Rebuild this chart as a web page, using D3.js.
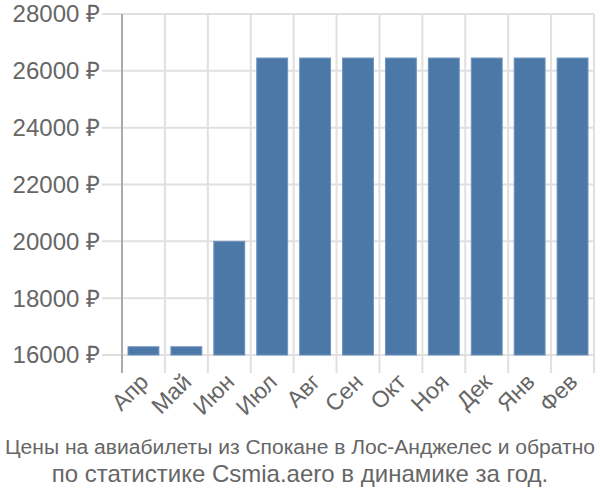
<!DOCTYPE html>
<html>
<head>
<meta charset="utf-8">
<script src="https://cdn.jsdelivr.net/npm/d3@7"></script>
<style>
  body { margin: 0; background: #fff; }
  .grid line { stroke: #e0e0e0; stroke-width: 2; }
</style>
</head>
<body>
<div id="chart"></div>
<script>
"use strict";

var width = 600;
var height = 500;
var margin = { top: 14, right: 6, bottom: 145, left: 122 };

var months = ["Апр", "Май", "Июн", "Июл", "Авг", "Сен", "Окт", "Ноя", "Дек", "Янв", "Фев"];
var prices = [16290, 16290, 20000, 26450, 26450, 26450, 26450, 26450, 26450, 26450, 26450];
var yTicks = [16000, 18000, 20000, 22000, 24000, 26000, 28000];
var titleLines = ["Цены на авиабилеты из Спокане в Лос-Анджелес и обратно",
                  "по статистике Csmia.aero в динамике за год."];

var xScale = d3.scaleBand()
               .domain(months)
               .range([margin.left, width - margin.right])
               .paddingInner(0.28)
               .paddingOuter(0.14);

var yScale = d3.scaleLinear()
               .domain([16000, 28000])
               .range([355, margin.top]);

var svg = d3.select("#chart")
            .append("svg")
            .attr("width", width)
            .attr("height", height);

// horizontal grid lines
svg.append("g")
   .attr("class", "grid")
   .selectAll("line")
   .data(yTicks)
   .enter()
   .append("line")
   .attr("x1", margin.left - 20)
   .attr("x2", width - margin.right)
   .attr("y1", function(d) { return yScale(d); })
   .attr("y2", function(d) { return yScale(d); });

// vertical grid lines at band boundaries
var step = xScale.step();
var bounds = d3.range(months.length + 1).map(function(i) {
   return margin.left + i * step;
});
svg.append("g")
   .attr("class", "grid")
   .selectAll("line")
   .data(bounds.slice(1))
   .enter()
   .append("line")
   .attr("x1", function(d) { return d; })
   .attr("x2", function(d) { return d; })
   .attr("y1", margin.top)
   .attr("y2", 373);

// bars
svg.selectAll("rect.bar")
   .data(prices)
   .enter()
   .append("rect")
   .attr("class", "bar")
   .attr("x", function(d, i) { return xScale(months[i]); })
   .attr("y", function(d) { return yScale(d); })
   .attr("width", xScale.bandwidth())
   .attr("height", function(d) { return yScale(16000) - yScale(d); })
   .attr("fill", "#4c78a8")
   .attr("stroke", "#6f93bd")
   .attr("stroke-width", 1);

// left axis line
svg.append("line")
   .attr("x1", margin.left)
   .attr("x2", margin.left)
   .attr("y1", margin.top)
   .attr("y2", 373)
   .attr("stroke", "#aaa")
   .attr("stroke-width", 2);

// y tick labels
svg.append("g")
   .selectAll("text")
   .data(yTicks)
   .enter()
   .append("text")
   .attr("x", 100)
   .attr("y", function(d) { return yScale(d); })
   .attr("dy", "0.35em")
   .attr("text-anchor", "end")
   .style("font-family", "'Liberation Sans', Arial, sans-serif")
   .style("font-size", "24px")
   .attr("fill", "#666")
   .text(function(d) { return d + " ₽"; });

// x tick labels
svg.append("g")
   .selectAll("text")
   .data(months)
   .enter()
   .append("text")
   .attr("transform", function(d) {
      return "translate(" + (xScale(d) + xScale.bandwidth() / 2 - 5) + ",372) rotate(-45)";
   })
   .attr("text-anchor", "end")
   .attr("dy", "0.7em")
   .style("font-family", "'Liberation Sans', Arial, sans-serif")
   .style("font-size", "23px")
   .attr("fill", "#666")
   .text(function(d) { return d; });

// title (a line that is too wide gets a smaller font)
svg.append("g")
   .selectAll("text")
   .data(titleLines)
   .enter()
   .append("text")
   .attr("x", width / 2)
   .attr("y", function(d, i) { return 454 + i * 28; })
   .attr("text-anchor", "middle")
   .style("font-family", "'Liberation Sans', sans-serif")
   .style("font-size", "24px")
   .attr("fill", "#666")
   .text(function(d) { return d; })
   .each(function() {
      var len = this.getComputedTextLength();
      if (len > width - 10) {
         d3.select(this).style("font-size", (24 * (width - 10) / len).toFixed(2) + "px");
      }
   });
</script>
</body>
</html>
